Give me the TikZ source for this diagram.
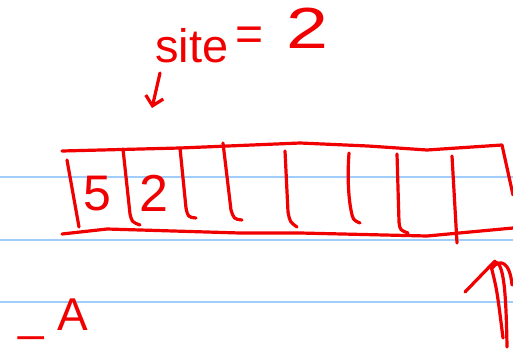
\documentclass[tikz,border=0pt]{standalone}
\usepackage{fontspec}
\setmainfont{Liberation Sans}
\usetikzlibrary{arrows.meta}
\definecolor{ink}{RGB}{240,0,0}
\definecolor{rule}{RGB}{160,205,250}
\tikzset{
  pen/.style={draw=ink, line width=3.2pt, line cap=round, line join=round},
  ruled/.style={draw=rule, line width=1.6pt},
  hand/.style={text=ink, inner sep=0pt, anchor=base west}
}
\begin{document}
\begin{tikzpicture}[x=1pt,y=-1pt]
\useasboundingbox (0,0) rectangle (513,348);
\fill[white] (0,0) rectangle (513,348);
% ruled paper lines
\coordinate (r1a) at (0,177); \coordinate (r1b) at (513,177);
\coordinate (r2a) at (0,240); \coordinate (r2b) at (513,240);
\coordinate (r3a) at (0,302); \coordinate (r3b) at (513,302);
\draw[ruled] (r1a) -- (r1b);
\draw[ruled] (r2a) -- (r2b);
\draw[ruled] (r3a) -- (r3b);
% array box
\draw[pen] (62,151) -- (180,148) -- (300,143) -- (368,146) -- (427,150) -- (502,145) -- (513,195);
\draw[pen] (62,234) -- (107,229) -- (240,233) -- (300,233) -- (427,236) -- (513,228);
% cell dividers
\draw[pen] (67,160) -- (79,227);
\draw[pen] (123,149) -- (130,214) .. controls (132,222) .. (140,225);
\draw[pen] (180,148) -- (186,208) .. controls (188,217) .. (196,218);
\draw[pen] (223,143) -- (231,210) .. controls (234,219) .. (242,220);
\draw[pen] (285,151) -- (288,212) .. controls (290,222) .. (297,227);
\draw[pen] (349,153) .. controls (347,180) and (349,200) .. (351,210) .. controls (353,220) .. (360,223);
\draw[pen] (397,154) -- (399,222) .. controls (400,230) .. (408,233);
\draw[pen] (452,156) -- (457,243);
% cell values
\node[hand, font=\fontsize{50}{50}\selectfont] (v1) at (83,210) {5};
\node[hand, font=\fontsize{52}{52}\selectfont] (v2) at (139,211) {2};
% label
\node[hand, font=\fontsize{47}{47}\selectfont] (lab) at (155,62) {site};
\node[hand, font=\fontsize{48}{48}\selectfont] (eq) at (235,50) {=};
\node[hand, xscale=1.3, font=\fontsize{58}{58}\selectfont] (two) at (286,48) {2};
\coordinate (ptr) at (152,108);
\coordinate (ptrs) at (160,73);
\draw[pen, -{Straight Barb[length=9pt,width=18pt,line width=3.2pt]}] (ptrs) -- (ptr);
% bottom text
\node[hand, font=\fontsize{46}{46}\selectfont] (A) at (18,330) {\_\hspace{14pt}A};
% scribbled arrow bottom right
\draw[pen] (465,292) -- (495,261);
\draw[pen] (491,266) .. controls (497,290) .. (503,338);
\draw[pen] (496,262) .. controls (503,265) and (506,285) .. (507,347);
\draw[pen] (492,268) .. controls (500,258) and (510,262) .. (512,285);
\end{tikzpicture}
\end{document}
